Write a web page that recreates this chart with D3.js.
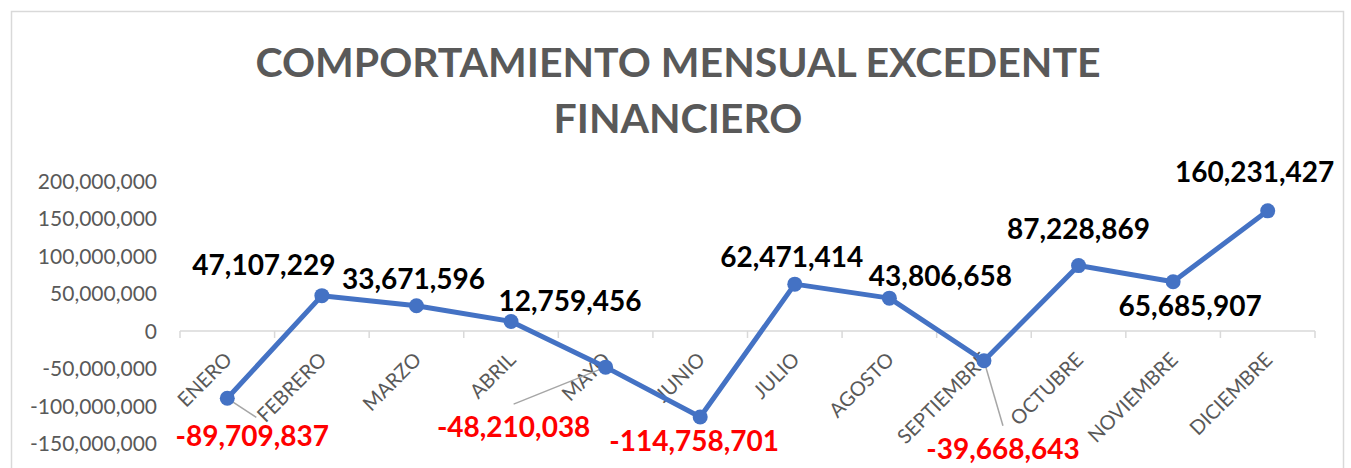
<!DOCTYPE html>
<html>
<head>
<meta charset="utf-8">
<script src="https://cdn.jsdelivr.net/npm/d3@7"></script>
<style>
  html, body { margin: 0; padding: 0; background: #fff; }
  svg { display: block; }
</style>
</head>
<body>
<div id="chart"></div>
<script>
///// 1. DATOS
const MESES = ['ENERO','FEBRERO','MARZO','ABRIL','MAYO','JUNIO',
               'JULIO','AGOSTO','SEPTIEMBRE','OCTUBRE','NOVIEMBRE','DICIEMBRE'];
const EXCEDENTE = [-89709837, 47107229, 33671596, 12759456, -48210038, -114758701,
                   62471414, 43806658, -39668643, 87228869, 65685907, 160231427];
const Y_TICKS = [200000000, 150000000, 100000000, 50000000, 0,
                 -50000000, -100000000, -150000000];
const TITULO = ['COMPORTAMIENTO MENSUAL EXCEDENTE', 'FINANCIERO'];

///// 2. LAYOUT (desplazamiento de etiquetas respecto al punto, líneas guía)
const LABEL_OFF = [[25,48],[-58,-21],[-3,-17],[59,-10],[-92,70],[-6,34],
                   [-3,-17],[51,-12],[19,98],[0,-27],[17,34],[-13,-29]];
const LEADER = { 0: [29,19], 4: [-92,37], 8: [19,65] };   // fin de línea guía

const W = 1351, H = 468;
const fmt = d3.formatLocale({ decimal: '.', thousands: ',', grouping: [3],
                              currency: ['$',''], minus: '-' }).format(',');

const svg = d3.select('#chart').append('svg')
  .attr('width', W).attr('height', H)
  .style('font-family', 'Lato, "Open Sans", sans-serif');

// marco del gráfico
svg.append('rect')
  .attr('x', 11.5).attr('y', 11.5)
  .attr('width', 1332).attr('height', 500)
  .attr('fill', '#fff').attr('stroke', '#d9d9d9').attr('stroke-width', 1.5);

// título
svg.append('g').selectAll('text')
  .data(TITULO)
  .join('text')
    .attr('x', 678).attr('y', (d, i) => 77 + i * 56)
    .attr('text-anchor', 'middle')
    .attr('fill', '#595959')
    .attr('font-weight', 700)
    .attr('font-size', 41)
    .text(d => d);

///// 3. ESCALAS
const x = d3.scaleBand(MESES, [180, 1315]).padding(0);
const y = d3.scaleLinear([-200000000, 200000000], [481, 181]);
const cx = d => x(d) + x.bandwidth() / 2;

// eje Y (solo etiquetas)
svg.append('g').selectAll('text')
  .data(Y_TICKS)
  .join('text')
    .attr('x', 157).attr('y', d => y(d))
    .attr('dy', '0.36em')
    .attr('text-anchor', 'end')
    .attr('fill', '#595959')
    .attr('font-size', 21)
    .text(d => fmt(d));

// eje X: línea en cero + marcas entre categorías
const ax = svg.append('g').attr('stroke', '#d9d9d9').attr('stroke-width', 1.5);
ax.append('line')
  .attr('x1', 180).attr('x2', 1315)
  .attr('y1', y(0)).attr('y2', y(0));
ax.selectAll('line.tick')
  .data(MESES.map(m => x(m)).concat([x.range()[1]]))
  .join('line')
    .attr('class', 'tick')
    .attr('x1', d => d).attr('x2', d => d)
    .attr('y1', y(0)).attr('y2', y(0) + 7);

svg.append('g').selectAll('text')
  .data(MESES)
  .join('text')
    .attr('transform', d => `translate(${cx(d) + 6},${y(0) + 30}) rotate(-45)`)
    .attr('text-anchor', 'end')
    .attr('fill', '#595959')
    .attr('font-size', 20)
    .text(d => d);

///// 4. SERIE
const pts = MESES.map((m, i) => ({ m, v: EXCEDENTE[i], i }));

// líneas guía
svg.append('g').selectAll('line')
  .data(pts.filter(p => LEADER[p.i]))
  .join('line')
    .attr('x1', p => cx(p.m)).attr('y1', p => y(p.v))
    .attr('x2', p => cx(p.m) + LEADER[p.i][0])
    .attr('y2', p => y(p.v) + LEADER[p.i][1])
    .attr('stroke', '#a6a6a6').attr('stroke-width', 1.5);

svg.append('path')
  .datum(pts)
  .attr('fill', 'none')
  .attr('stroke', '#4472c4')
  .attr('stroke-width', 5)
  .attr('stroke-linejoin', 'round')
  .attr('d', d3.line().x(p => cx(p.m)).y(p => y(p.v)));

svg.append('g').selectAll('circle')
  .data(pts)
  .join('circle')
    .attr('cx', p => cx(p.m)).attr('cy', p => y(p.v))
    .attr('r', 7.5)
    .attr('fill', '#4472c4');

// etiquetas de datos
svg.append('g').selectAll('text')
  .data(pts)
  .join('text')
    .attr('x', p => cx(p.m) + LABEL_OFF[p.i][0])
    .attr('y', p => y(p.v) + LABEL_OFF[p.i][1])
    .attr('text-anchor', 'middle')
    .attr('font-weight', 700)
    .attr('font-size', 28)
    .attr('fill', p => p.v < 0 ? '#ff0000' : '#000')
    .text(p => fmt(p.v));
</script>
</body>
</html>
